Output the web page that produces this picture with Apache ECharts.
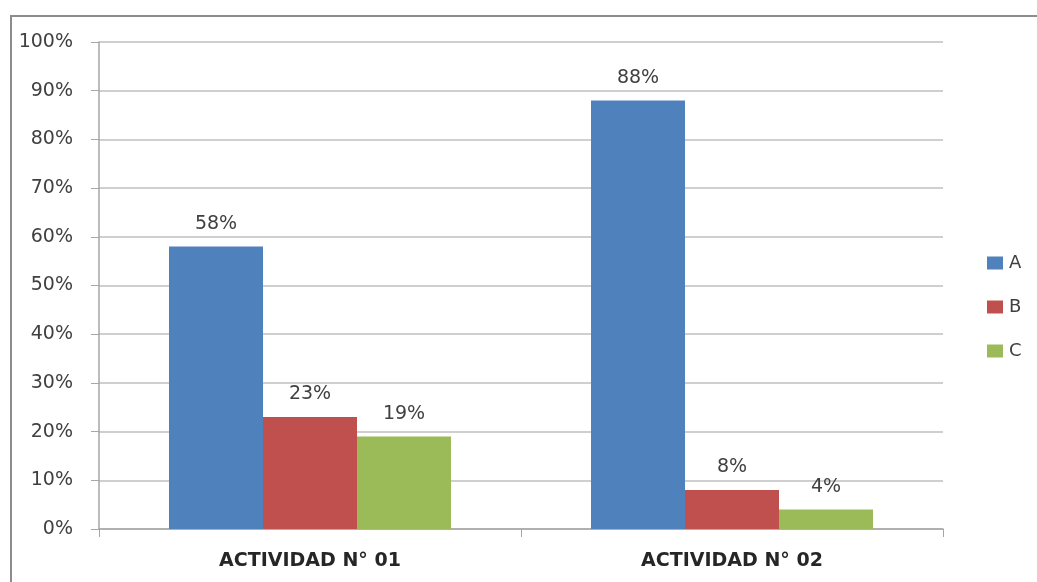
<!DOCTYPE html>
<html>
<head>
<meta charset="utf-8">
<title>Actividades</title>
<script src="https://cdn.jsdelivr.net/npm/echarts@6/dist/echarts.min.js"></script>
<style>
  html, body { margin: 0; padding: 0; background: #fff; }
  #chart { width: 1037px; height: 582px; }
</style>
</head>
<body>
<div id="chart"></div>
<script>
var categories = ["ACTIVIDAD N° 01", "ACTIVIDAD N° 02"];
var seriesNames = ["A", "B", "C"];
var valuesA = [58, 88];
var valuesB = [23, 8];
var valuesC = [19, 4];
var colors = ["#4f81bd", "#c0504d", "#9bbb59"];

var chart = echarts.init(document.getElementById("chart"));

var labelStyle = {
  show: true,
  position: "top",
  distance: 13,
  formatter: "{c}%",
  fontFamily: "DejaVu Sans",
  fontSize: 19,
  color: "#404040"
};

function makeSeries(name, data, color) {
  return {
    name: name,
    type: "bar",
    data: data,
    barWidth: 94,
    barGap: "0%",
    itemStyle: { color: color },
    label: labelStyle
  };
}

var option = {
  animation: false,
  textStyle: { fontFamily: "DejaVu Sans" },
  // marco del gráfico
  graphic: [
    {
      type: "rect",
      shape: { x: 11, y: 16, width: 1100, height: 700 },
      style: { fill: "none", stroke: "#8c8c8c", lineWidth: 2 },
      silent: true
    }
  ],
  grid: { left: 99, right: 94, top: 42, bottom: 53 },
  legend: {
    orient: "vertical",
    left: 982,
    top: 249,
    itemWidth: 16,
    itemHeight: 13,
    itemGap: 26,
    icon: "rect",
    data: seriesNames,
    textStyle: { fontSize: 18, color: "#404040", padding: [0, 0, 0, 1] }
  },
  xAxis: {
    type: "category",
    data: categories,
    axisLine: { lineStyle: { color: "#a6a6a6", width: 1.5 } },
    axisTick: { show: true, length: 8, inside: false, lineStyle: { color: "#a6a6a6" } },
    axisLabel: {
      fontSize: 19,
      fontWeight: "bold",
      color: "#262626",
      margin: 23
    }
  },
  yAxis: {
    type: "value",
    min: 0,
    max: 100,
    interval: 10,
    axisLine: { show: true, lineStyle: { color: "#a6a6a6", width: 1.5 } },
    axisTick: { show: true, length: 8, lineStyle: { color: "#a6a6a6" } },
    splitLine: { lineStyle: { color: "#bfbfbf", width: 1.5 } },
    axisLabel: {
      formatter: "{value}%",
      fontSize: 19,
      color: "#404040",
      margin: 26
    }
  },
  series: [
    makeSeries(seriesNames[0], valuesA, colors[0]),
    makeSeries(seriesNames[1], valuesB, colors[1]),
    makeSeries(seriesNames[2], valuesC, colors[2])
  ]
};

chart.setOption(option);
</script>
</body>
</html>
